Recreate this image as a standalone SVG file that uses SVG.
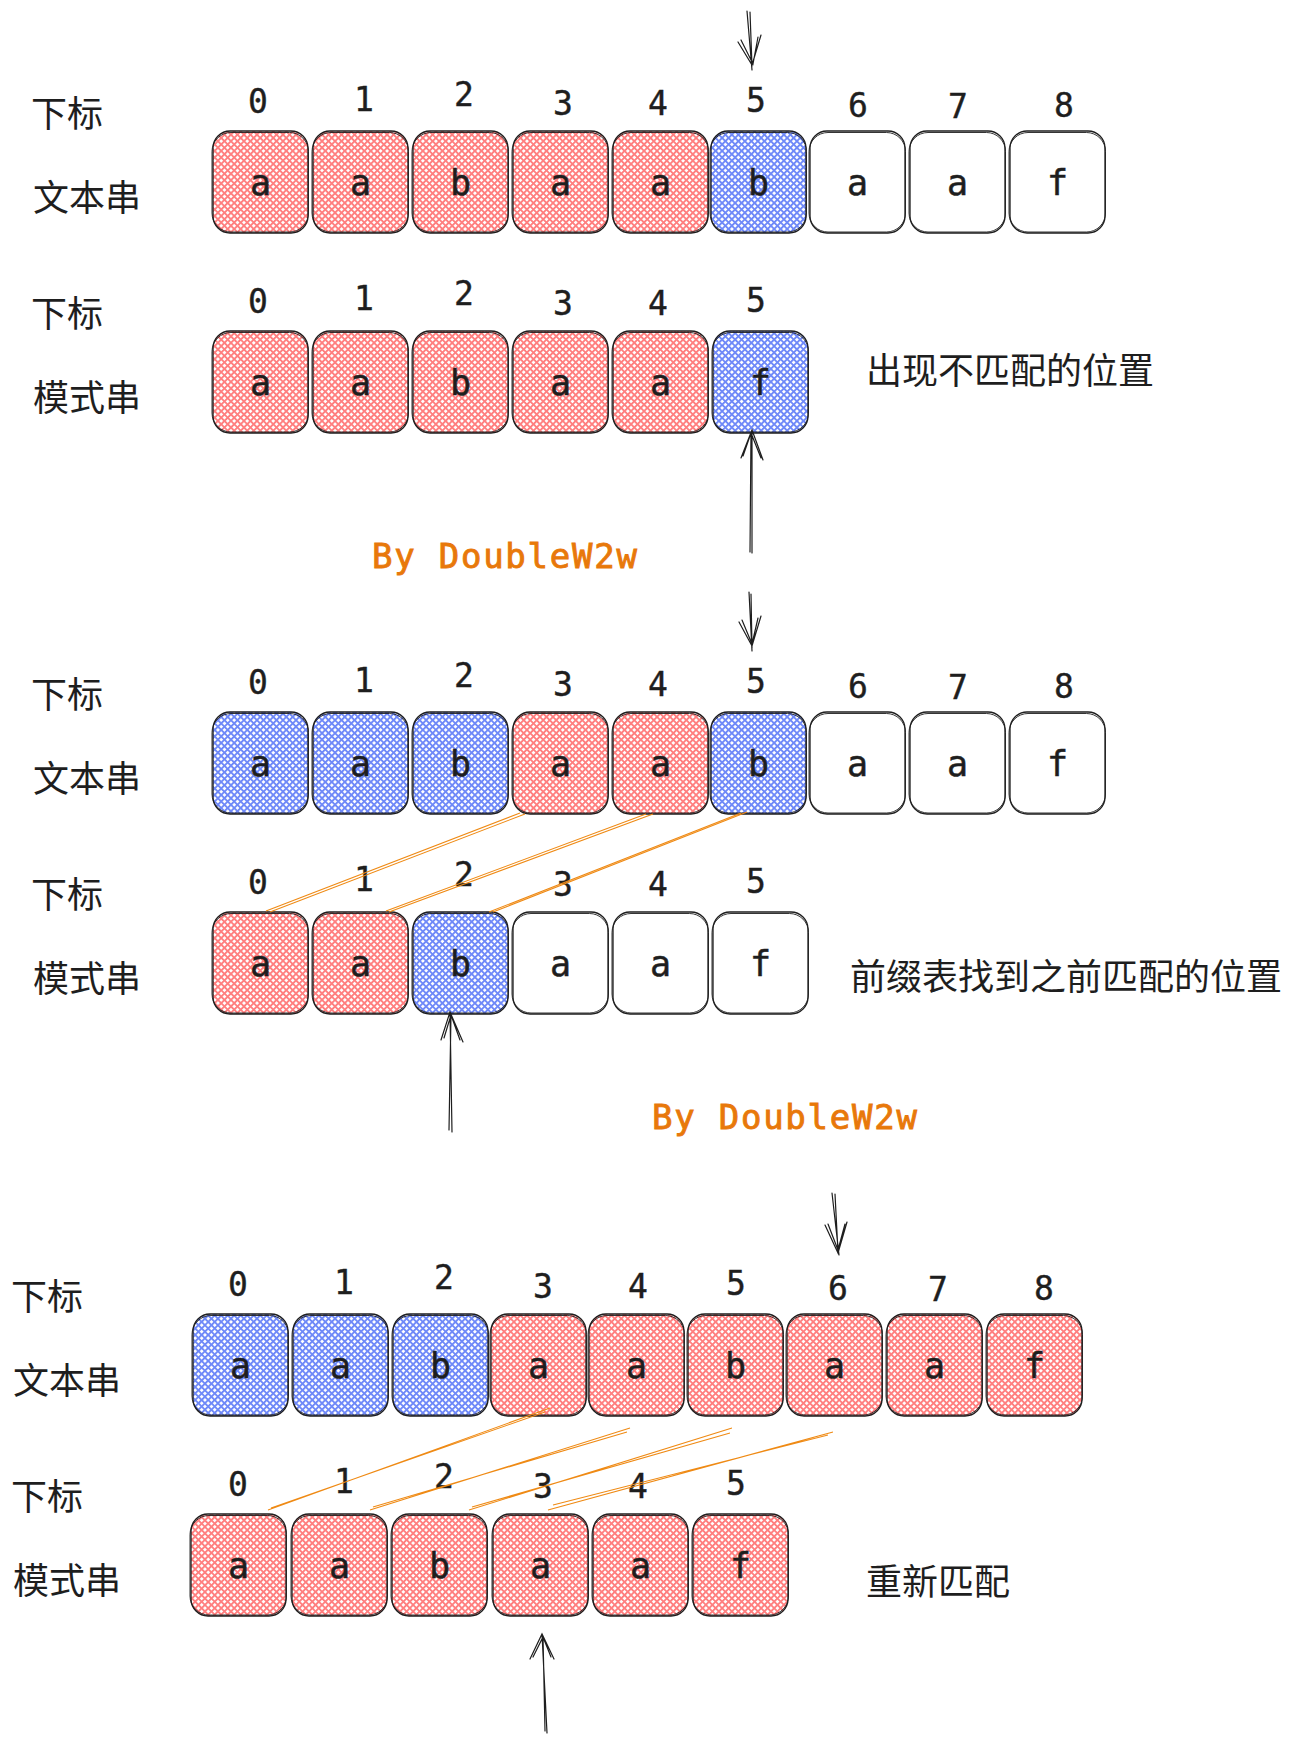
<svg xmlns="http://www.w3.org/2000/svg" width="1292" height="1743" viewBox="0 0 1292 1743">
<defs>
<pattern id="red" width="4.6" height="4.6" patternUnits="userSpaceOnUse" patternTransform="rotate(45)">
<rect width="4.6" height="4.6" fill="#fff"/>
<path d="M0 0.9H4.6M0.9 0V4.6" stroke="#ff7f7f" stroke-width="2"/>
</pattern>
<pattern id="blue" width="4.6" height="4.6" patternUnits="userSpaceOnUse" patternTransform="rotate(45)">
<rect width="4.6" height="4.6" fill="#fff"/>
<path d="M0 0.9H4.6M0.9 0V4.6" stroke="#6f89f8" stroke-width="2"/>
</pattern>
</defs>
<style>
.r{fill:url(#red)}
.b{fill:url(#blue)}
.w{fill:#fff}
.o{stroke:#1e1e1e;stroke-width:1.3}
.o2{fill:none;stroke:#1e1e1e;stroke-width:0.9}
.lt{font-family:"DejaVu Sans Mono",monospace;font-size:35px;text-anchor:middle;fill:#1e1e1e;stroke:#1e1e1e;stroke-width:0.5}
.ix{font-family:"DejaVu Sans Mono",monospace;font-size:33px;text-anchor:middle;fill:#1e1e1e;stroke:#1e1e1e;stroke-width:0.4}
.cn{font-family:"Noto Sans CJK SC",sans-serif;font-size:36px;fill:#1e1e1e}
.by{font-family:"DejaVu Sans Mono",monospace;font-size:34px;fill:#e8780a;stroke:#e8780a;stroke-width:0.9}
.con{stroke:#ef8a14;stroke-width:1.1;fill:none}
.arr{stroke:#1e1e1e;stroke-width:1.2;fill:none;stroke-linecap:round}
</style>

<!-- ===== Section 1 ===== -->
<g id="s1-labels">
<text class="cn" x="31" y="127">下标</text>
<text class="cn" x="33" y="211">文本串</text>
<text class="cn" x="31" y="327">下标</text>
<text class="cn" x="33" y="411">模式串</text>
<text class="cn" x="866" y="384">出现不匹配的位置</text>
<text class="by" x="372" y="568" textLength="265" lengthAdjust="spacing">By DoubleW2w</text>
</g>
<g id="s1-idx">
<text class="ix" x="258" y="113">0</text><text class="ix" x="364" y="111">1</text><text class="ix" x="464" y="106">2</text><text class="ix" x="563" y="115">3</text><text class="ix" x="658" y="115">4</text><text class="ix" x="756" y="112">5</text><text class="ix" x="858" y="117">6</text><text class="ix" x="958" y="118">7</text><text class="ix" x="1064" y="117">8</text>
<text class="ix" x="258" y="313">0</text><text class="ix" x="364" y="310">1</text><text class="ix" x="464" y="305">2</text><text class="ix" x="563" y="315">3</text><text class="ix" x="658" y="315">4</text><text class="ix" x="756" y="312">5</text>
</g>
<g id="s1-t0"><rect class="r o" x="213" y="131" width="95" height="102" rx="17"/><rect class="o2" x="212" y="132.5" width="96.5" height="99.5" rx="19"/><text class="lt" x="260.5" y="195">a</text></g>
<g id="s1-t1"><rect class="r o" x="313" y="131" width="95" height="102" rx="17"/><rect class="o2" x="312" y="132.5" width="96.5" height="99.5" rx="19"/><text class="lt" x="360.5" y="195">a</text></g>
<g id="s1-t2"><rect class="r o" x="413" y="131" width="95" height="102" rx="17"/><rect class="o2" x="412" y="132.5" width="96.5" height="99.5" rx="19"/><text class="lt" x="460.5" y="195">b</text></g>
<g id="s1-t3"><rect class="r o" x="513" y="131" width="95" height="102" rx="17"/><rect class="o2" x="512" y="132.5" width="96.5" height="99.5" rx="19"/><text class="lt" x="560.5" y="195">a</text></g>
<g id="s1-t4"><rect class="r o" x="613" y="131" width="95" height="102" rx="17"/><rect class="o2" x="612" y="132.5" width="96.5" height="99.5" rx="19"/><text class="lt" x="660.5" y="195">a</text></g>
<g id="s1-t5"><rect class="b o" x="711" y="131" width="95" height="102" rx="17"/><rect class="o2" x="710" y="132.5" width="96.5" height="99.5" rx="19"/><text class="lt" x="758.5" y="195">b</text></g>
<g id="s1-t6"><rect class="w o" x="810" y="131" width="95" height="102" rx="17"/><rect class="o2" x="809" y="132.5" width="96.5" height="99.5" rx="19"/><text class="lt" x="857.5" y="195">a</text></g>
<g id="s1-t7"><rect class="w o" x="910" y="131" width="95" height="102" rx="17"/><rect class="o2" x="909" y="132.5" width="96.5" height="99.5" rx="19"/><text class="lt" x="957.5" y="195">a</text></g>
<g id="s1-t8"><rect class="w o" x="1010" y="131" width="95" height="102" rx="17"/><rect class="o2" x="1009" y="132.5" width="96.5" height="99.5" rx="19"/><text class="lt" x="1057.5" y="195">f</text></g>

<g id="s1-p0"><rect class="r o" x="213" y="331" width="95" height="102" rx="17"/><rect class="o2" x="212" y="332.5" width="96.5" height="99.5" rx="19"/><text class="lt" x="260.5" y="395">a</text></g>
<g id="s1-p1"><rect class="r o" x="313" y="331" width="95" height="102" rx="17"/><rect class="o2" x="312" y="332.5" width="96.5" height="99.5" rx="19"/><text class="lt" x="360.5" y="395">a</text></g>
<g id="s1-p2"><rect class="r o" x="413" y="331" width="95" height="102" rx="17"/><rect class="o2" x="412" y="332.5" width="96.5" height="99.5" rx="19"/><text class="lt" x="460.5" y="395">b</text></g>
<g id="s1-p3"><rect class="r o" x="513" y="331" width="95" height="102" rx="17"/><rect class="o2" x="512" y="332.5" width="96.5" height="99.5" rx="19"/><text class="lt" x="560.5" y="395">a</text></g>
<g id="s1-p4"><rect class="r o" x="613" y="331" width="95" height="102" rx="17"/><rect class="o2" x="612" y="332.5" width="96.5" height="99.5" rx="19"/><text class="lt" x="660.5" y="395">a</text></g>
<g id="s1-p5"><rect class="b o" x="713" y="331" width="95" height="102" rx="17"/><rect class="o2" x="712" y="332.5" width="96.5" height="99.5" rx="19"/><text class="lt" x="760.5" y="395">f</text></g>

<!-- ===== Section 2 ===== -->
<g id="s2-labels">
<text class="cn" x="31" y="708">下标</text>
<text class="cn" x="33" y="792">文本串</text>
<text class="cn" x="31" y="908">下标</text>
<text class="cn" x="33" y="992">模式串</text>
<text class="cn" x="850" y="990">前缀表找到之前匹配的位置</text>
<text class="by" x="652" y="1129" textLength="265" lengthAdjust="spacing">By DoubleW2w</text>
</g>
<g id="s2-idx">
<text class="ix" x="258" y="694">0</text><text class="ix" x="364" y="692">1</text><text class="ix" x="464" y="687">2</text><text class="ix" x="563" y="696">3</text><text class="ix" x="658" y="696">4</text><text class="ix" x="756" y="693">5</text><text class="ix" x="858" y="698">6</text><text class="ix" x="958" y="699">7</text><text class="ix" x="1064" y="698">8</text>
<text class="ix" x="258" y="894">0</text><text class="ix" x="364" y="891">1</text><text class="ix" x="464" y="886">2</text><text class="ix" x="563" y="896">3</text><text class="ix" x="658" y="896">4</text><text class="ix" x="756" y="893">5</text>
</g>
<g id="s2-t0"><rect class="b o" x="213" y="712" width="95" height="102" rx="17"/><rect class="o2" x="212" y="713.5" width="96.5" height="99.5" rx="19"/><text class="lt" x="260.5" y="776">a</text></g>
<g id="s2-t1"><rect class="b o" x="313" y="712" width="95" height="102" rx="17"/><rect class="o2" x="312" y="713.5" width="96.5" height="99.5" rx="19"/><text class="lt" x="360.5" y="776">a</text></g>
<g id="s2-t2"><rect class="b o" x="413" y="712" width="95" height="102" rx="17"/><rect class="o2" x="412" y="713.5" width="96.5" height="99.5" rx="19"/><text class="lt" x="460.5" y="776">b</text></g>
<g id="s2-t3"><rect class="r o" x="513" y="712" width="95" height="102" rx="17"/><rect class="o2" x="512" y="713.5" width="96.5" height="99.5" rx="19"/><text class="lt" x="560.5" y="776">a</text></g>
<g id="s2-t4"><rect class="r o" x="613" y="712" width="95" height="102" rx="17"/><rect class="o2" x="612" y="713.5" width="96.5" height="99.5" rx="19"/><text class="lt" x="660.5" y="776">a</text></g>
<g id="s2-t5"><rect class="b o" x="711" y="712" width="95" height="102" rx="17"/><rect class="o2" x="710" y="713.5" width="96.5" height="99.5" rx="19"/><text class="lt" x="758.5" y="776">b</text></g>
<g id="s2-t6"><rect class="w o" x="810" y="712" width="95" height="102" rx="17"/><rect class="o2" x="809" y="713.5" width="96.5" height="99.5" rx="19"/><text class="lt" x="857.5" y="776">a</text></g>
<g id="s2-t7"><rect class="w o" x="910" y="712" width="95" height="102" rx="17"/><rect class="o2" x="909" y="713.5" width="96.5" height="99.5" rx="19"/><text class="lt" x="957.5" y="776">a</text></g>
<g id="s2-t8"><rect class="w o" x="1010" y="712" width="95" height="102" rx="17"/><rect class="o2" x="1009" y="713.5" width="96.5" height="99.5" rx="19"/><text class="lt" x="1057.5" y="776">f</text></g>

<g id="s2-p0"><rect class="r o" x="213" y="912" width="95" height="102" rx="17"/><rect class="o2" x="212" y="913.5" width="96.5" height="99.5" rx="19"/><text class="lt" x="260.5" y="976">a</text></g>
<g id="s2-p1"><rect class="r o" x="313" y="912" width="95" height="102" rx="17"/><rect class="o2" x="312" y="913.5" width="96.5" height="99.5" rx="19"/><text class="lt" x="360.5" y="976">a</text></g>
<g id="s2-p2"><rect class="b o" x="413" y="912" width="95" height="102" rx="17"/><rect class="o2" x="412" y="913.5" width="96.5" height="99.5" rx="19"/><text class="lt" x="460.5" y="976">b</text></g>
<g id="s2-p3"><rect class="w o" x="513" y="912" width="95" height="102" rx="17"/><rect class="o2" x="512" y="913.5" width="96.5" height="99.5" rx="19"/><text class="lt" x="560.5" y="976">a</text></g>
<g id="s2-p4"><rect class="w o" x="613" y="912" width="95" height="102" rx="17"/><rect class="o2" x="612" y="913.5" width="96.5" height="99.5" rx="19"/><text class="lt" x="660.5" y="976">a</text></g>
<g id="s2-p5"><rect class="w o" x="713" y="912" width="95" height="102" rx="17"/><rect class="o2" x="712" y="913.5" width="96.5" height="99.5" rx="19"/><text class="lt" x="760.5" y="976">f</text></g>

<!-- ===== Section 3 ===== -->
<g id="s3-labels">
<text class="cn" x="11" y="1310">下标</text>
<text class="cn" x="13" y="1394">文本串</text>
<text class="cn" x="11" y="1510">下标</text>
<text class="cn" x="13" y="1594">模式串</text>
<text class="cn" x="866" y="1595">重新匹配</text>
</g>
<g id="s3-idx">
<text class="ix" x="238" y="1296">0</text><text class="ix" x="344" y="1294">1</text><text class="ix" x="444" y="1289">2</text><text class="ix" x="543" y="1298">3</text><text class="ix" x="638" y="1298">4</text><text class="ix" x="736" y="1295">5</text><text class="ix" x="838" y="1300">6</text><text class="ix" x="938" y="1301">7</text><text class="ix" x="1044" y="1300">8</text>
<text class="ix" x="238" y="1496">0</text><text class="ix" x="344" y="1493">1</text><text class="ix" x="444" y="1488">2</text><text class="ix" x="543" y="1498">3</text><text class="ix" x="638" y="1498">4</text><text class="ix" x="736" y="1495">5</text>
</g>
<g id="s3-t0"><rect class="b o" x="193" y="1314" width="95" height="102" rx="17"/><rect class="o2" x="192" y="1315.5" width="96.5" height="99.5" rx="19"/><text class="lt" x="240.5" y="1378">a</text></g>
<g id="s3-t1"><rect class="b o" x="293" y="1314" width="95" height="102" rx="17"/><rect class="o2" x="292" y="1315.5" width="96.5" height="99.5" rx="19"/><text class="lt" x="340.5" y="1378">a</text></g>
<g id="s3-t2"><rect class="b o" x="393" y="1314" width="95" height="102" rx="17"/><rect class="o2" x="392" y="1315.5" width="96.5" height="99.5" rx="19"/><text class="lt" x="440.5" y="1378">b</text></g>
<g id="s3-t3"><rect class="r o" x="491" y="1314" width="95" height="102" rx="17"/><rect class="o2" x="490" y="1315.5" width="96.5" height="99.5" rx="19"/><text class="lt" x="538.5" y="1378">a</text></g>
<g id="s3-t4"><rect class="r o" x="589" y="1314" width="95" height="102" rx="17"/><rect class="o2" x="588" y="1315.5" width="96.5" height="99.5" rx="19"/><text class="lt" x="636.5" y="1378">a</text></g>
<g id="s3-t5"><rect class="r o" x="688" y="1314" width="95" height="102" rx="17"/><rect class="o2" x="687" y="1315.5" width="96.5" height="99.5" rx="19"/><text class="lt" x="735.5" y="1378">b</text></g>
<g id="s3-t6"><rect class="r o" x="787" y="1314" width="95" height="102" rx="17"/><rect class="o2" x="786" y="1315.5" width="96.5" height="99.5" rx="19"/><text class="lt" x="834.5" y="1378">a</text></g>
<g id="s3-t7"><rect class="r o" x="887" y="1314" width="95" height="102" rx="17"/><rect class="o2" x="886" y="1315.5" width="96.5" height="99.5" rx="19"/><text class="lt" x="934.5" y="1378">a</text></g>
<g id="s3-t8"><rect class="r o" x="987" y="1314" width="95" height="102" rx="17"/><rect class="o2" x="986" y="1315.5" width="96.5" height="99.5" rx="19"/><text class="lt" x="1034.5" y="1378">f</text></g>

<g id="s3-p0"><rect class="r o" x="191" y="1514" width="95" height="102" rx="17"/><rect class="o2" x="190" y="1515.5" width="96.5" height="99.5" rx="19"/><text class="lt" x="238.5" y="1578">a</text></g>
<g id="s3-p1"><rect class="r o" x="292" y="1514" width="95" height="102" rx="17"/><rect class="o2" x="291" y="1515.5" width="96.5" height="99.5" rx="19"/><text class="lt" x="339.5" y="1578">a</text></g>
<g id="s3-p2"><rect class="r o" x="392" y="1514" width="95" height="102" rx="17"/><rect class="o2" x="391" y="1515.5" width="96.5" height="99.5" rx="19"/><text class="lt" x="439.5" y="1578">b</text></g>
<g id="s3-p3"><rect class="r o" x="493" y="1514" width="95" height="102" rx="17"/><rect class="o2" x="492" y="1515.5" width="96.5" height="99.5" rx="19"/><text class="lt" x="540.5" y="1578">a</text></g>
<g id="s3-p4"><rect class="r o" x="593" y="1514" width="95" height="102" rx="17"/><rect class="o2" x="592" y="1515.5" width="96.5" height="99.5" rx="19"/><text class="lt" x="640.5" y="1578">a</text></g>
<g id="s3-p5"><rect class="r o" x="693" y="1514" width="95" height="102" rx="17"/><rect class="o2" x="692" y="1515.5" width="96.5" height="99.5" rx="19"/><text class="lt" x="740.5" y="1578">f</text></g>

<!-- ===== Connectors ===== -->
<g id="connectors">
<path class="arr" d="M747 11L752 70M750 12L752 66M738 42L752 65L761 35M741 40L753 64L758 37"/>
<path class="arr" d="M752 553L752 430M750 552L751 432M741 458L752 430L763 460M743 456L751 433L761 458"/>
<path class="arr" d="M749 592L752 651M751 594L752 648M739 622L752 646L761 616M742 620L752 644L758 618"/>
<path class="arr" d="M452 1132L450 1012M449 1130L451 1014M441 1040L450 1012L463 1042M444 1038L451 1015L460 1040"/>
<path class="arr" d="M832 1193L839 1255M835 1194L838 1252M825 1225L838 1253L847 1222M828 1224L838 1250L845 1224"/>
<path class="arr" d="M547 1733L542 1634M545 1731L543 1636M530 1659L542 1634L554 1659M533 1657L543 1637L551 1657"/>
<path class="con" d="M525 814L270 912M520 813L266 911"/>
<path class="con" d="M653 814L389 912M646 814L386 911"/>
<path class="con" d="M747 812L493 912M741 813L489 912"/>
<path class="con" d="M550 1408L268 1510M545 1412L271 1508"/>
<path class="con" d="M630 1428L370 1510M627 1432L373 1507"/>
<path class="con" d="M732 1428L469 1510M730 1433L472 1507"/>
<path class="con" d="M833 1432L548 1510M828 1435L553 1505"/>
</g>
</svg>
